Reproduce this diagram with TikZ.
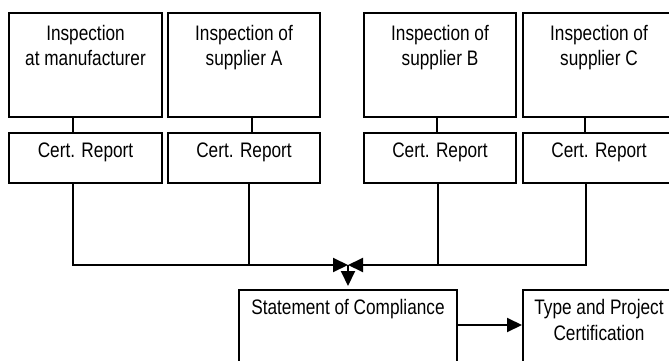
\documentclass[tikz,border=0pt]{standalone}
\usepackage{fontspec}
\setmainfont[FakeStretch=0.82]{Liberation Sans}
\usetikzlibrary{arrows.meta}
\begin{document}
\begin{tikzpicture}[x=1pt,y=-1pt,
  box/.style={draw, line width=2pt, rectangle, inner sep=0pt},
  lbl/.style={anchor=north, inner sep=0pt, align=center, font={\fontsize{21}{25.5}\selectfont}},
  link/.style={line width=2pt},
  arr/.style={line width=2pt, -{Triangle[length=15pt,width=14pt]}}]
\clip (0,0) rectangle (669,361);
% top inspection boxes
\node[box, minimum width=153pt, minimum height=104pt] (b1) at (85.5,65) {};
\node[box, minimum width=152pt, minimum height=104pt] (b2) at (244,65) {};
\node[box, minimum width=152pt, minimum height=104pt] (b3) at (440,65) {};
\node[box, minimum width=152pt, minimum height=104pt] (b4) at (599,65) {};
% cert boxes
\node[box, minimum width=153pt, minimum height=50pt] (c1) at (85.5,158) {};
\node[box, minimum width=152pt, minimum height=50pt] (c2) at (244,158) {};
\node[box, minimum width=152pt, minimum height=50pt] (c3) at (440,158) {};
\node[box, minimum width=152pt, minimum height=50pt] (c4) at (599,158) {};
% bottom boxes
\node[box, minimum width=218pt, minimum height=90pt] (s) at (348,335) {};
\node[box, minimum width=152pt, minimum height=90pt] (t) at (599,335) {};
% texts
\node[lbl] (tb1) at (85.5,25) {Inspection\\at manufacturer};
\node[lbl] (tb2) at (244,25) {Inspection of\\supplier A};
\node[lbl] (tb3) at (440,25) {Inspection of\\supplier B};
\node[lbl] (tb4) at (599,25) {Inspection of\\supplier C};
\node[lbl] (tc1) at (85.5,142.5) {Cert. Report};
\node[lbl] (tc2) at (244,142.5) {Cert. Report};
\node[lbl] (tc3) at (440,142.5) {Cert. Report};
\node[lbl] (tc4) at (599,142.5) {Cert. Report};
\node[lbl] (ts) at (348,299.5) {Statement of Compliance};
\node[lbl] (tt) at (599,299.5) {Type and Project\\Certification};
% connector positions
\coordinate (u1) at (73,0);
\coordinate (u2) at (252,0);
\coordinate (u3) at (437,0);
\coordinate (u4) at (585,0);
\coordinate (d1) at (73,0);
\coordinate (d2) at (249,0);
\coordinate (d3) at (438,0);
\coordinate (d4) at (586,0);
\coordinate (m) at (348,265);
% box to cert links
\draw[link] (b1.south -| u1) -- (c1.north -| u1);
\draw[link] (b2.south -| u2) -- (c2.north -| u2);
\draw[link] (b3.south -| u3) -- (c3.north -| u3);
\draw[link] (b4.south -| u4) -- (c4.north -| u4);
% collecting lines
\draw[link] (c2.south -| d2) -- (d2 |- m);
\draw[link] (c3.south -| d3) -- (d3 |- m);
\draw[arr] (c1.south -| d1) |- (m);
\draw[arr] (c4.south -| d4) |- (m);
\draw[arr, shorten >=3pt] (m) -- (s.north);
\draw[arr] ([yshift=10pt]s.east) -- ([yshift=10pt]t.west);
\end{tikzpicture}
\end{document}
